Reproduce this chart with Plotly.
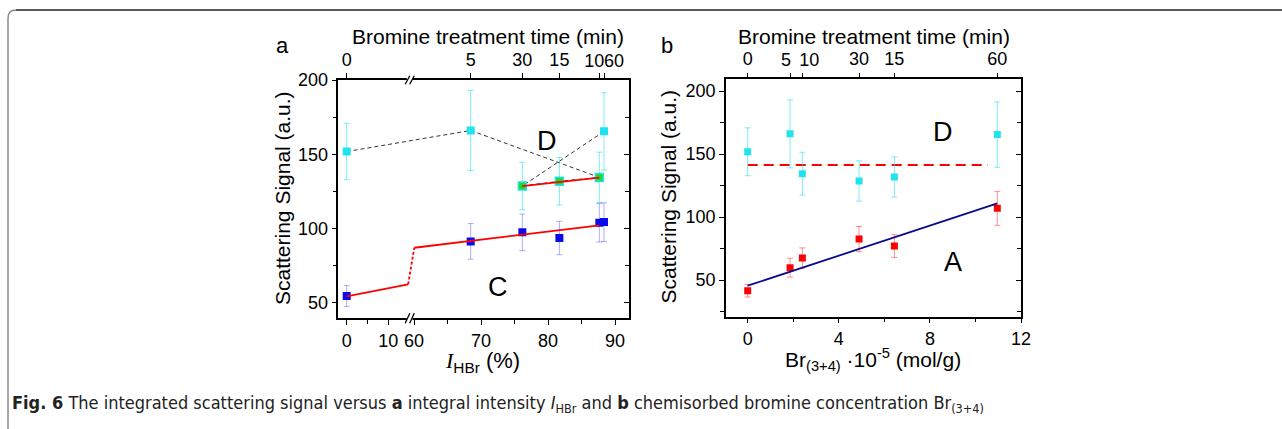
import numpy as np
import plotly.graph_objects as go

# ---------------- data ----------------
times = ["0", "5", "10", "15", "30", "60"]              # bromine treatment time (min)
I_HBr = [0, 68.46, 87.66, 81.7, 76.17, 88.36]           # integral intensity I_HBr (%)
Br34 = [0, 1.86, 2.40, 6.44, 4.89, 10.96]               # Br(3+4) * 1e-5 (mol/g)
sig_C = [54.5, 91.3, 103.9, 93.6, 97.4, 104.3]
err_C = [7, 12, 13, 11.2, 12.3, 13]
sig_D = [151.8, 166.0, 134.4, 131.8, 128.6, 165.4]
err_D = [19, 27, 17, 16, 16, 26]
sig_A = [41.5, 59.8, 67.5, 77.0, 82.5, 106.9]
err_A = [5, 7.5, 8, 9, 10, 13.5]
green_idx = [2, 3, 4]                                   # D points on the upper fit (10, 15, 30 min)
fit_C = (54.3, 0.545)                                   # intercept, slope
fit_Da = (90.4, 0.5)
fit_A = (45.5, 5.96)
mean_Db = 141.3
break_lo, break_hi = 14.77, 60.04                       # axis break in panel a

x_a_ticks = [0, 10, 60, 70, 80, 90]
x_a_minor = [5, 65, 75, 85]
y_ticks = [50, 100, 150, 200]

# label shifts (px) for crowded top tick labels
shift_a = {"10": -5, "60": 10}
shift_b = {"5": -4, "10": 7}

# ---------------- geometry (pixels) ----------------
W, H = 1282, 429
def X(p): return p / W
def Y(p): return 1 - p / H

PX_R = 6.7            # px per % (right part of panel a)
PX_L = 4.16           # px per % (left part of panel a)
P0_L, P60 = 346.7, 414.0
U0 = 60 - (P60 - P0_L) / PX_R
def u(I):
    I = np.asarray(I, dtype=float)
    return np.where(I < 30, U0 + I * PX_L / PX_R, I)

A_L, A_R, A_T, A_B = 338.3, 629.0, 80.0, 318.3
UA = [60 - (P60 - A_L) / PX_R, 60 + (A_R - P60) / PX_R]
YA = [39.5, 200.0]

B_L, B_R, B_T, B_B = 726.0, 1021.0, 79.3, 316.7
XB = [-0.953, 12.0]
YB = [20.9, 209.3]

FONT = "Liberation Sans, Arial, sans-serif"
TICKF = dict(family=FONT, size=18, color="black")

cyan = "#1fe4ee"
cyan_err = "rgba(40,225,235,0.6)"
blue = "#0b0bea"
blue_err = "rgba(70,70,255,0.45)"
red = "#ff0000"
red_err = "rgba(255,70,70,0.6)"

fig = go.Figure()

def lin(p, xs):
    return [p[0] + p[1] * v for v in xs]

# ---- panel a ----
uI = u(I_HBr)
fig.add_trace(go.Scatter(x=uI, y=sig_D, mode="lines", xaxis="x", yaxis="y",
                         line=dict(color="#333", width=1, dash="4px,3px"), hoverinfo="skip"))
fig.add_trace(go.Scatter(x=uI, y=sig_D, mode="markers", xaxis="x", yaxis="y",
                         marker=dict(symbol="square", size=8, color=cyan, line=dict(width=0)),
                         error_y=dict(type="data", array=err_D, color=cyan_err, thickness=1, width=3)))
fig.add_trace(go.Scatter(x=uI[green_idx], y=[sig_D[i] for i in green_idx], mode="markers",
                         xaxis="x", yaxis="y",
                         marker=dict(symbol="square", size=8, color="#2ad42a", line=dict(color=cyan, width=1.5))))
fig.add_trace(go.Scatter(x=uI, y=sig_C, mode="markers", xaxis="x", yaxis="y",
                         marker=dict(symbol="square", size=8, color=blue, line=dict(width=0)),
                         error_y=dict(type="data", array=err_C, color=blue_err, thickness=1, width=3)))
seg1 = [0, break_lo]
seg2 = [break_lo, break_hi]
seg3 = [break_hi, I_HBr[2]]
for seg, dash in ((seg1, "solid"), (seg2, "3px,2px"), (seg3, "solid")):
    fig.add_trace(go.Scatter(x=u(seg), y=lin(fit_C, seg), mode="lines", xaxis="x", yaxis="y",
                             line=dict(color=red, width=1.8, dash=dash), hoverinfo="skip"))
segD = [I_HBr[4], I_HBr[2]]
fig.add_trace(go.Scatter(x=u(segD), y=lin(fit_Da, segD), mode="lines", xaxis="x", yaxis="y",
                         line=dict(color=red, width=1.8), hoverinfo="skip"))

# ---- panel b ----
fig.add_trace(go.Scatter(x=[0, 10.55], y=[mean_Db, mean_Db], mode="lines", xaxis="x3", yaxis="y3",
                         line=dict(color=red, width=1.8, dash="10px,6px"), hoverinfo="skip"))
fig.add_trace(go.Scatter(x=Br34, y=sig_D, mode="markers", xaxis="x3", yaxis="y3",
                         marker=dict(symbol="square", size=7, color=cyan, line=dict(width=0)),
                         error_y=dict(type="data", array=err_D, color=cyan_err, thickness=1, width=3)))
fig.add_trace(go.Scatter(x=Br34, y=sig_A, mode="markers", xaxis="x3", yaxis="y3",
                         marker=dict(symbol="square", size=7, color=red, line=dict(width=0)),
                         error_y=dict(type="data", array=err_A, color=red_err, thickness=1, width=3)))
segA = [0, max(Br34)]
fig.add_trace(go.Scatter(x=segA, y=lin(fit_A, segA), mode="lines", xaxis="x3", yaxis="y3",
                         line=dict(color="#0a0a8c", width=1.8), hoverinfo="skip"))

# ---- axes ----
common = dict(showgrid=False, zeroline=False, showline=True, linecolor="black", linewidth=1.5,
              ticks="outside", ticklen=5, tickwidth=1.2, tickcolor="black", tickfont=TICKF,
              automargin=False, tickangle=0)
minor_out = dict(ticks="outside", ticklen=4, tickcolor="black", tickwidth=1.2)
minor_in = dict(ticks="inside", ticklen=4, tickcolor="black", tickwidth=1.2)

layout_axes = dict(
    xaxis=dict(domain=[X(A_L), X(A_R)], range=UA, anchor="y",
               tickmode="array", tickvals=list(u(x_a_ticks)), ticktext=[str(v) for v in x_a_ticks],
               minor=dict(tickmode="array", tickvals=list(u(x_a_minor)), **minor_out), **common),
    xaxis2=dict(overlaying="x", side="top", anchor="y", range=UA, tickmode="array",
                tickvals=list(uI), ticktext=["" if t in shift_a else t for t in times], **common),
    yaxis=dict(domain=[Y(A_B), Y(A_T)], range=YA, anchor="x", tickmode="array", tickvals=y_ticks,
               minor=dict(dtick=25, **minor_out), **common),
    yaxis2=dict(overlaying="y", side="right", anchor="x", range=YA, showticklabels=False,
                **{**common, "ticks": "inside"}, tickmode="array", tickvals=y_ticks,
                minor=dict(dtick=25, **minor_in)),
    xaxis3=dict(domain=[X(B_L), X(B_R)], range=XB, anchor="y3", tickmode="array",
                tickvals=[0, 4, 8, 12], minor=dict(dtick=2, **minor_out), **common),
    xaxis4=dict(overlaying="x3", side="top", anchor="y3", range=XB, tickmode="array",
                tickvals=Br34, ticktext=["" if t in shift_b else t for t in times], **common),
    yaxis3=dict(domain=[Y(B_B), Y(B_T)], range=YB, anchor="x3", tickmode="array", tickvals=y_ticks,
                minor=dict(dtick=25, **minor_out), **common),
    yaxis4=dict(overlaying="y3", side="right", anchor="x3", range=YB, showticklabels=False,
                **{**common, "ticks": "inside"}, tickmode="array", tickvals=y_ticks,
                minor=dict(dtick=25, **minor_in)),
)
# registers overlay axes
fig.add_trace(go.Scatter(x=[None], y=[None], xaxis="x2", yaxis="y2", mode="markers", hoverinfo="skip"))
fig.add_trace(go.Scatter(x=[None], y=[None], xaxis="x4", yaxis="y4", mode="markers", hoverinfo="skip"))

# extra top axes that carry only the shifted (crowded) labels
n = 5
for base, yname, rng, xs, shifts in (("x", "y", UA, uI, shift_a), ("x3", "y3", XB, Br34, shift_b)):
    for t, s in shifts.items():
        i = times.index(t)
        layout_axes[f"xaxis{n}"] = dict(overlaying=base, side="top", anchor=yname, range=rng,
                                        tickmode="array", tickvals=[float(xs[i])], ticktext=[t],
                                        ticklabelshift=s,
                                        **{**common, "showline": False, "tickcolor": "rgba(0,0,0,0)"})
        fig.add_trace(go.Scatter(x=[None], y=[None], xaxis=f"x{n}", yaxis=yname, mode="markers",
                                 hoverinfo="skip"))
        n += 1

fig.update_layout(width=W, height=H, margin=dict(l=0, r=0, t=0, b=0, autoexpand=False),
                  paper_bgcolor="white", plot_bgcolor="white", showlegend=False, **layout_axes)

# ---- break marks on panel a ----
shapes = []
for yy, hgt in ((A_T, 4.2), (A_B, 5.0)):
    shapes.append(dict(type="rect", xref="paper", yref="paper", x0=X(406.8), x1=X(412.6),
                       y0=Y(yy + 2), y1=Y(yy - 2), fillcolor="white", line=dict(width=0), layer="above"))
    for xc in (407.5, 412.0):
        shapes.append(dict(type="line", xref="paper", yref="paper",
                           x0=X(xc - 2.3), y0=Y(yy + hgt), x1=X(xc + 2.3), y1=Y(yy - hgt),
                           line=dict(color="black", width=1.3), layer="above"))
# figure frame (top-left rounded corner)
shapes.append(dict(type="path", xref="paper", yref="paper",
                   path=f"M {X(8)},{Y(429)} L {X(8)},{Y(18)} Q {X(8)},{Y(10)} {X(16)},{Y(10)}",
                   line=dict(color="#8a8a8a", width=1.5)))
shapes.append(dict(type="line", xref="paper", yref="paper", x0=X(16), y0=Y(10), x1=X(1282), y1=Y(10),
                   line=dict(color="#222", width=1.3)))
fig.update_layout(shapes=shapes)

# ---- text ----
def ann(text, x, y, size, **kw):
    d = dict(text=text, x=X(x), y=Y(y), xref="paper", yref="paper", showarrow=False,
             font=dict(family=FONT, size=size, color="black"), xanchor="center", yanchor="middle")
    d.update(kw)
    fig.add_annotation(**d)

ann("a", 282, 45, 22)
ann("b", 667, 45, 22)
ann("Bromine treatment time (min)", 488, 36, 21)
ann("Bromine treatment time (min)", 874, 36, 21)
ann("Scattering Signal (a.u.)", 282.5, 198.5, 21, textangle=-90)
ann("Scattering Signal (a.u.)", 667.5, 197, 21, textangle=-90)
ann("<span style='font-family:Liberation Serif, Times New Roman, serif'><i>I</i></span><sub>HBr</sub> (%)",
    482.5, 362, 22)
ann("Br<sub>(3+4)</sub> \u00b710<sup>-5</sup> (mol/g)", 873, 359, 21)
ann("D", 547, 141, 27)
ann("C", 498, 287, 27)
ann("D", 943, 132, 27)
ann("A", 953, 262, 27)
ann("<b>Fig. 6</b> The integrated scattering signal versus <b>a</b> integral intensity "
    "<i>I</i><sub>HBr</sub> and <b>b</b> chemisorbed bromine concentration Br<sub>(3+4)</sub>",
    10, 404, 18, xanchor="left",
    font=dict(family="Liberation Sans Narrow, DejaVu Sans Condensed, Liberation Sans, sans-serif",
              size=18, color="#222"))

fig.write_html("out.html", config={"displayModeBar": False},
               post_script="document.body.style.margin='0';document.body.style.overflow='hidden';")
